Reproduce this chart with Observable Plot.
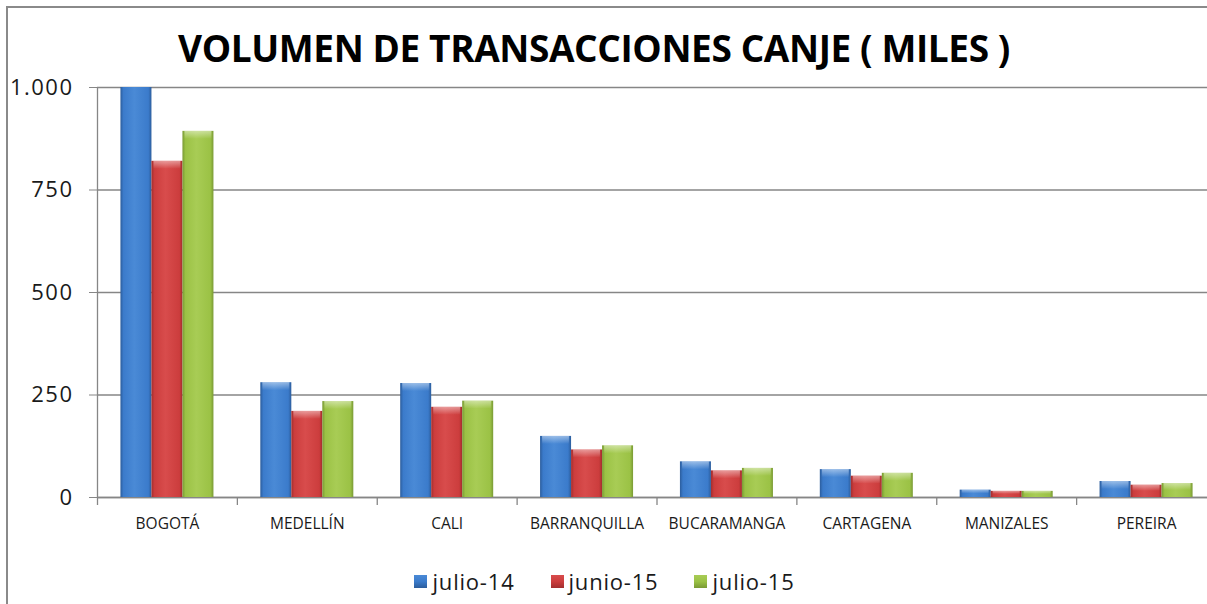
<!DOCTYPE html>
<html><head><meta charset="utf-8">
<script src="https://cdn.jsdelivr.net/npm/d3@7"></script>
<script src="https://cdn.jsdelivr.net/npm/@observablehq/plot@0.6"></script>
<style>
html,body{margin:0;padding:0;background:#fff;}
#wrap{position:relative;width:1207px;height:604px;overflow:hidden;font-family:"Open Sans",sans-serif;color:#1a1a1a;}
#frame{position:absolute;left:6px;top:6px;width:1300px;height:700px;border-left:2px solid #8a8a8a;border-top:2px solid #8a8a8a;}
#chart{position:absolute;left:0;top:0;}
#title{position:absolute;left:0;width:1188px;top:29px;text-align:center;font-weight:700;font-size:37px;line-height:37px;white-space:nowrap;color:#000;}
#legend{position:absolute;left:0;top:570px;width:1209px;display:flex;justify-content:center;gap:36px;font-size:22px;line-height:22px;letter-spacing:0.8px;}
#legend .item{display:flex;align-items:center;gap:5px;}
#legend .sw{width:13px;height:13px;display:inline-block;}
</style></head><body>
<div id="wrap">
  <div id="frame"></div>
  <div id="chart"></div>
  <div id="title"></div>
  <div id="legend"></div>
</div>
<script>
(function () {
// ---- data ----
const cities = ["BOGOTÁ","MEDELLÍN","CALI","BARRANQUILLA","BUCARAMANGA","CARTAGENA","MANIZALES","PEREIRA"];
const series = ["julio-14","junio-15","julio-15"];
const julio14 = [1000, 280, 278, 149, 87, 68, 18, 39];
const junio15 = [820, 210, 220, 116, 65, 52, 15, 30];
const julio15 = [893, 234, 235, 126, 71, 59, 15, 34];
const yTicks = [0, 250, 500, 750, 1000];
const titleText = "VOLUMEN DE TRANSACCIONES CANJE ( MILES )";

// colours: [edge, mid, light]
const palette = [
  ["#2c5d9c", "#3b7bcb", "#4a8ad6"],
  ["#a22e2e", "#cc3d3d", "#d84c4c"],
  ["#7a9a35", "#9bc245", "#a8cc55"]
];

const valuesBySeries = [julio14, junio15, julio15];
const data = series.flatMap((s, si) => cities.map((c, ci) => ({city: c, series: s, value: valuesBySeries[si][ci]})));

const W = 1207, H = 540, pLeft = 97, pRight = 1216, pTop = 87, pBottom = 497;
const bw = (pRight - pLeft) / cities.length;
const barW = 31;
const tickPx = 8;
const unitsPerPx = 1000 / (pBottom - pTop);
const tickUnits = tickPx * unitsPerPx;
const bevelUnits = 8 * unitsPerPx;
const fmt = d3.formatLocale({decimal: ",", thousands: ".", grouping: [3], currency: ["$", ""]}).format(",");
const grid = "#868686";

const chart = Plot.plot({
  width: W, height: H,
  marginTop: pTop, marginBottom: H - pBottom, marginLeft: pLeft, marginRight: W - pRight,
  style: {background: "none", fontFamily: "'Open Sans', sans-serif", color: "#1a1a1a"},
  x: {domain: cities, range: [pLeft, pRight], padding: 0, round: false},
  y: {domain: [0, 1000], range: [pBottom, pTop]},
  color: {domain: series, range: series.map((s, i) => `url(#barg${i})`)},
  marks: [
    Plot.gridY(yTicks, {stroke: grid, strokeOpacity: 1, strokeWidth: 1.3}),
    Plot.axisY(yTicks, {tickSize: tickPx, tickPadding: 16, tickFormat: fmt, fontSize: 22, stroke: grid, fill: "#1a1a1a", label: null}),
    Plot.ruleX([cities[0]], {x: d => d, dx: -bw / 2, y1: 0, y2: 1000, stroke: grid, strokeWidth: 1.3}),
    Plot.ruleX(cities, {x: d => d, dx: -bw / 2, y1: 0, y2: -tickUnits, stroke: grid, strokeWidth: 1.3}),
    Plot.ruleY([0], {stroke: grid, strokeWidth: 1.3}),
    ...series.map((s, i) => Plot.barY(data.filter(d => d.series === s), {
      x: "city", y: "value", fill: "series",
      insetLeft: (bw - barW) / 2, insetRight: (bw - barW) / 2, dx: (i - 1) * barW
    })),
    // top bevel highlight
    ...series.map((s, i) => Plot.barY(data.filter(d => d.series === s && d.value < 1000), {
      x: "city", y1: "value", y2: d => Math.max(d.value - bevelUnits, d.value / 2), fill: "url(#bevel)",
      insetLeft: (bw - barW) / 2 + 2, insetRight: (bw - barW) / 2 + 2, dx: (i - 1) * barW
    })),
    Plot.axisX({tickSize: 0, tickPadding: 20, fontSize: 15.5, fill: "#1a1a1a", label: null})
  ]
});

// gradients
const svg = d3.select(chart);
const defs = svg.insert("defs", ":first-child");
palette.forEach((p, i) => {
  const g = defs.append("linearGradient").attr("id", `barg${i}`).attr("x1", 0).attr("x2", 1).attr("y1", 0).attr("y2", 0);
  [[0, p[0]], [0.1, p[1]], [0.45, p[2]], [0.9, p[1]], [1, p[0]]].forEach(([o, c]) =>
    g.append("stop").attr("offset", o).attr("stop-color", c));
});
const bev = defs.append("linearGradient").attr("id", "bevel").attr("x1", 0).attr("x2", 0).attr("y1", 0).attr("y2", 1);
bev.append("stop").attr("offset", 0).attr("stop-color", "#fff").attr("stop-opacity", 0.45);
bev.append("stop").attr("offset", 1).attr("stop-color", "#fff").attr("stop-opacity", 0);
svg.selectAll("[aria-label='y-axis tick label'] text").style("letter-spacing", "1.5px");
document.getElementById("chart").appendChild(chart);

// title
const t = document.getElementById("title");
t.textContent = titleText;
const span = document.createElement("span");
span.style.cssText = "position:absolute;visibility:hidden;white-space:nowrap;font:700 37px 'Open Sans'";
span.textContent = titleText;
document.body.appendChild(span);
const tw = span.getBoundingClientRect().width;
span.remove();
t.style.letterSpacing = ((832 - tw) / (titleText.length)) + "px";

// legend
const lg = document.getElementById("legend");
series.forEach((s, i) => {
  const it = document.createElement("div");
  it.className = "item";
  const sw = document.createElement("span");
  sw.className = "sw";
  sw.style.background = `linear-gradient(180deg, ${palette[i][2]}, ${palette[i][1]} 50%, ${palette[i][0]})`;
  const tx = document.createElement("span");
  tx.textContent = s;
  it.appendChild(sw); it.appendChild(tx);
  lg.appendChild(it);
});
})();
</script>
</body></html>
